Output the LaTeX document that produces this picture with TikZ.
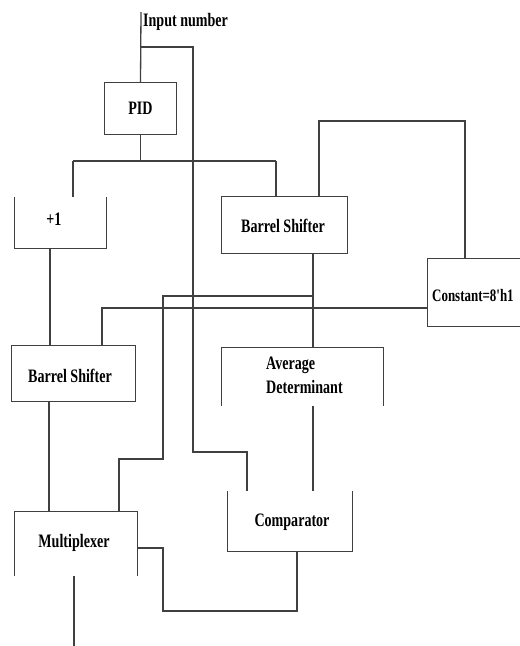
\documentclass[tikz,border=0pt]{standalone}
\usepackage{fontspec}
\setmainfont{Liberation Serif}
\newfontfamily\cf{Liberation Serif}[FakeStretch=0.74]
\begin{document}
\begin{tikzpicture}[x=1pt,y=-1pt,
  wire/.style={draw=black!75,line width=1.3pt},
  boxnode/.style={inner sep=0pt},
  txt/.style={inner sep=0pt,font=\cf\fontsize{19}{24}\selectfont\bfseries}]
\useasboundingbox (0,0) rectangle (520,646);
\clip (0,0) rectangle (520,646);
% boxes (invisible nodes, sides drawn explicitly)
\node[boxnode,minimum width=71pt,minimum height=51pt] (pid) at (140.5,108.5) {};
\node[boxnode,minimum width=91pt,minimum height=51pt] (plus) at (60.5,222.5) {};
\node[boxnode,minimum width=125pt,minimum height=56pt] (bs1) at (284.5,225) {};
\node[boxnode,minimum width=102pt,minimum height=67pt] (cst) at (479,292.5) {};
\node[boxnode,minimum width=123pt,minimum height=55pt] (bs2) at (73.5,373.5) {};
\node[boxnode,minimum width=161pt,minimum height=58pt] (avg) at (302.5,377) {};
\node[boxnode,minimum width=124pt,minimum height=60pt] (cmp) at (290,521) {};
\node[boxnode,minimum width=122pt,minimum height=64pt] (mux) at (76,544) {};
% texts
\node[txt,anchor=west] (inlbl) at (143,22) {Input number};
\node[txt] (pidt) at (140.5,108.5) {PID};
\node[txt] (plust) at (54,219) {+1};
\node[txt] (bs1t) at (283,226) {Barrel Shifter};
\node[txt,anchor=west,font=\cf\fontsize{17.5}{22}\selectfont\bfseries] (cstt) at (432,296) {Constant=8'h1};
\node[txt] (bs2t) at (70,376) {Barrel Shifter};
\node[txt,anchor=west,align=left] (avgt) at (266,375) {Average\\Determinant};
\node[txt] (cmpt) at (292,522) {Comparator};
\node[txt] (muxt) at (74,543) {Multiplexer};
% box outlines
\draw[wire] (pid.north west) rectangle (pid.south east);
\draw[wire] (plus.north west) -- (plus.south west) -- (plus.south east) -- (plus.north east);
\draw[wire] (bs1.north west) rectangle (bs1.south east);
\draw[wire] (cst.north east) -- (cst.north west) -- (cst.south west) -- (cst.south east);
\draw[wire] (bs2.north west) rectangle (bs2.south east);
\draw[wire] (avg.south west) -- (avg.north west) -- (avg.north east) -- (avg.south east);
\draw[wire] (cmp.north west) -- (cmp.south west) -- (cmp.south east) -- (cmp.north east);
\draw[wire] (mux.south west) -- (mux.north west) -- (mux.north east) -- (mux.south east);
% connectors
\coordinate (in) at (141,12);
\coordinate (br1) at (141,47);
\coordinate (br1r) at (193,47);
\coordinate (j1) at (193,452);
\coordinate (j1r) at (247,452);
\draw[wire] (in) -- (pid.north);
\draw[wire] (br1) -- (br1r) -- (j1) -- (j1r) -- (j1r |- cmp.north);
\coordinate (h1) at (140.5,161);
\coordinate (h1l) at (73,161);
\coordinate (h1r) at (276,161);
\draw[wire] (pid.south) -- (h1);
\draw[wire] (h1l) -- (h1r);
\draw[wire] (h1l) -- (h1l |- plus.north);
\draw[wire] (h1r) -- (h1r |- bs1.north);
\coordinate (p2) at (50,248);
\draw[wire] (p2) -- (p2 |- bs2.north);
\coordinate (t1) at (319,121);
\coordinate (t2) at (465,121);
\draw[wire] (t1 |- bs1.north) -- (t1) -- (t2) -- (t2 |- cst.north);
\coordinate (v1) at (313,253);
\draw[wire] (v1) -- (v1 |- avg.north);
\coordinate (c1) at (102,308);
\draw[wire] (cst.west |- c1) -- (c1) -- (c1 |- bs2.north);
\coordinate (m1) at (313,296);
\coordinate (m2) at (163,296);
\coordinate (m3) at (163,459);
\coordinate (m4) at (119,459);
\draw[wire] (m1) -- (m2) -- (m3) -- (m4) -- (m4 |- mux.north);
\coordinate (b2) at (49,401);
\draw[wire] (b2) -- (b2 |- mux.north);
\coordinate (a1) at (313,406);
\draw[wire] (a1) -- (a1 |- cmp.north);
\coordinate (k1) at (297,551);
\coordinate (k2) at (297,611);
\coordinate (k3) at (163,611);
\coordinate (k4) at (163,548);
\draw[wire] (k1) -- (k2) -- (k3) -- (k4) -- (mux.east |- k4);
\coordinate (o1) at (74,576);
\coordinate (o2) at (74,646);
\draw[wire] (o1) -- (o2);
\end{tikzpicture}
\end{document}
